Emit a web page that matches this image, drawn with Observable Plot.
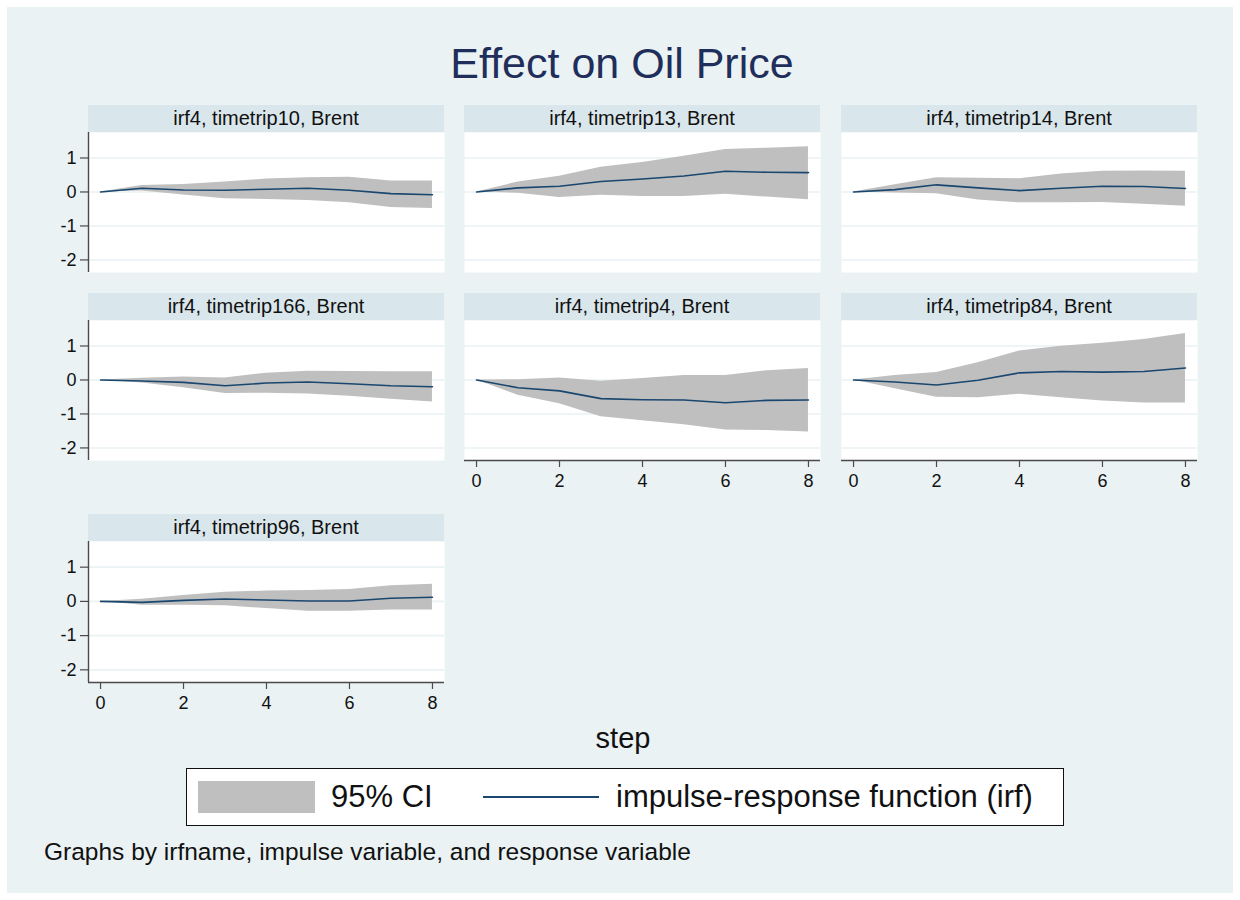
<!DOCTYPE html>
<html>
<head>
<meta charset="utf-8">
<script src="https://cdn.jsdelivr.net/npm/d3@7"></script>
<script src="https://cdn.jsdelivr.net/npm/@observablehq/plot@0.6"></script>
<style>
  html, body { margin: 0; padding: 0; background: #ffffff; }
  body { width: 1240px; height: 900px; position: relative; overflow: hidden;
         font-family: "Liberation Sans", Arial, Helvetica, sans-serif; }
  #graph { position: absolute; left: 7px; top: 7px; width: 1226px; height: 886px; background: #eaf2f3; }
  .abs { position: absolute; white-space: nowrap; line-height: 1; }
  .strip { position: absolute; background: #d9e6eb; display: flex; align-items: center;
           justify-content: center; font-size: 20px; color: #111; }
  .panel { position: absolute; }
  .panel svg text { font-size: 18px !important; }
</style>
</head>
<body>
<div id="graph"></div>
<script>
// ---------- data ----------
const steps = [0, 1, 2, 3, 4, 5, 6, 7, 8];
const yTicks = [-2, -1, 0, 1];
const xTicks = [0, 2, 4, 6, 8];
const xDomain = [-0.29, 8.29];
const yDomain = [-2.37, 1.75];

const titleText = "Effect on Oil Price";
const panelTitles = [
  "irf4, timetrip10, Brent",
  "irf4, timetrip13, Brent",
  "irf4, timetrip14, Brent",
  "irf4, timetrip166, Brent",
  "irf4, timetrip4, Brent",
  "irf4, timetrip84, Brent",
  "irf4, timetrip96, Brent"
];

const irf10 = [0, 0.11, 0.06, 0.05, 0.08, 0.11, 0.05, -0.05, -0.08];
const hi10  = [0, 0.19, 0.22, 0.29, 0.38, 0.42, 0.43, 0.32, 0.32];
const lo10  = [0, 0.03, -0.09, -0.20, -0.22, -0.25, -0.32, -0.46, -0.49];

const irf13 = [0, 0.12, 0.17, 0.31, 0.38, 0.47, 0.61, 0.58, 0.57];
const hi13  = [0, 0.29, 0.46, 0.73, 0.87, 1.05, 1.25, 1.29, 1.33];
const lo13  = [0, -0.04, -0.16, -0.10, -0.13, -0.13, -0.07, -0.15, -0.23];

const irf14 = [0, 0.07, 0.21, 0.12, 0.04, 0.11, 0.17, 0.16, 0.10];
const hi14  = [0, 0.21, 0.42, 0.40, 0.39, 0.53, 0.61, 0.62, 0.61];
const lo14  = [0, -0.03, -0.05, -0.24, -0.32, -0.32, -0.31, -0.36, -0.42];

const irf166 = [0, -0.03, -0.07, -0.17, -0.09, -0.06, -0.11, -0.17, -0.20];
const hi166  = [0, 0.05, 0.09, 0.06, 0.20, 0.26, 0.25, 0.24, 0.24];
const lo166  = [0, -0.09, -0.23, -0.40, -0.39, -0.41, -0.48, -0.57, -0.65];

const irf4 = [0, -0.23, -0.32, -0.55, -0.58, -0.59, -0.67, -0.60, -0.59];
const hi4  = [0, 0.01, 0.06, -0.04, 0.04, 0.13, 0.13, 0.27, 0.34];
const lo4  = [0, -0.45, -0.70, -1.08, -1.20, -1.32, -1.47, -1.49, -1.53];

const irf84 = [0, -0.06, -0.15, -0.01, 0.21, 0.25, 0.23, 0.25, 0.35];
const hi84  = [0, 0.13, 0.22, 0.51, 0.85, 0.99, 1.08, 1.19, 1.37];
const lo84  = [0, -0.26, -0.51, -0.52, -0.42, -0.52, -0.62, -0.68, -0.68];

const irf96 = [0, -0.03, 0.03, 0.07, 0.04, 0.01, 0.01, 0.09, 0.12];
const hi96  = [0, 0.06, 0.17, 0.27, 0.30, 0.32, 0.35, 0.46, 0.50];
const lo96  = [0, -0.11, -0.11, -0.13, -0.21, -0.29, -0.29, -0.25, -0.25];

const legendLabels = ["95% CI", "impulse-response function (irf)"];
const xLabel = "step";
const captionText = "Graphs by irfname, impulse variable, and response variable";

// ---------- styles ----------
const bandColor = "#bfbfbf";
const lineColor = "#1a476f";
const gridColor = "#eaf2f3";
const axisColor = "#4a4a4a";
const FONT = '"Liberation Sans", Arial, Helvetica, sans-serif';
const tickFmt = d => String(d); // plain hyphen minus like the original

// ---------- layout ----------
const panelSeries = [
  [irf10, lo10, hi10], [irf13, lo13, hi13], [irf14, lo14, hi14],
  [irf166, lo166, hi166], [irf4, lo4, hi4], [irf84, lo84, hi84],
  [irf96, lo96, hi96]
];
const panelPos = [ // col, row, showX, showY
  [0, 0, false, true], [1, 0, false, false], [2, 0, false, false],
  [0, 1, false, true], [1, 1, true, false], [2, 1, true, false],
  [0, 2, true, true]
];
const colLeft = [88, 464, 841];
const stripTop = [105, 293, 514];
const stripH = 27;
const plotW = 356;
const plotH = [140, 140, 141];

const g = document.getElementById("graph");
const OX = 7, OY = 7;

function addText(txt, left, top, size, color, extra) {
  const d = document.createElement("div");
  d.className = "abs";
  d.textContent = txt;
  d.style.left = (left - OX) + "px";
  d.style.top = (top - OY) + "px";
  d.style.fontSize = size + "px";
  d.style.color = color;
  if (extra) Object.assign(d.style, extra);
  g.appendChild(d);
  return d;
}

// title
addText(titleText, 0, 42, 43, "#1f2e5a", {left: "0px", width: "1240px", textAlign: "center", marginLeft: "-5px"});

panelPos.forEach(([c, r, showX, showY], i) => {
  const [irf, lo, hi] = panelSeries[i];
  const data = steps.map((s, k) => ({step: s, irf: irf[k], lo: lo[k], hi: hi[k]}));
  // strip
  const st = document.createElement("div");
  st.className = "strip";
  st.style.left = (colLeft[c] - OX) + "px";
  st.style.top = (stripTop[r] - OY) + "px";
  st.style.width = plotW + "px";
  st.style.height = stripH + "px";
  st.textContent = panelTitles[i];
  g.appendChild(st);

  const mL = showY ? 50 : 0;
  const mB = showX ? 40 : 0;
  const marks = [
    Plot.frame({fill: "white", stroke: null}),
    Plot.ruleY(yTicks, {stroke: gridColor, strokeWidth: 1.6}),
    Plot.areaY(data, {x: "step", y1: "lo", y2: "hi", fill: bandColor, curve: "linear"}),
    Plot.line(data, {x: "step", y: "irf", stroke: lineColor, strokeWidth: 1.6})
  ];
  if (showY) {
    marks.push(Plot.axisY(yTicks, {tickSize: 8, tickPadding: 4, stroke: axisColor, strokeWidth: 1.2, fill: "#111", label: null, fontSize: 18, tickFormat: tickFmt}));
    marks.push(Plot.ruleX([xDomain[0]], {stroke: axisColor, strokeWidth: 1.4}));
  } else {
    marks.push(Plot.axisY([], {label: null}));
  }
  if (showX) {
    marks.push(Plot.axisX(xTicks, {tickSize: 7, tickPadding: 7, stroke: axisColor, strokeWidth: 1.2, fill: "#111", label: null, fontSize: 18, tickFormat: tickFmt}));
    marks.push(Plot.ruleY([yDomain[0]], {stroke: axisColor, strokeWidth: 1.4}));
  } else {
    marks.push(Plot.axisX([], {label: null}));
  }
  const chart = Plot.plot({
    width: plotW + mL,
    height: plotH[r] + mB,
    marginLeft: mL, marginRight: 0, marginTop: 0, marginBottom: mB,
    x: {domain: xDomain, label: null},
    y: {domain: yDomain, label: null},
    style: {background: "transparent", fontFamily: FONT, fontSize: "18px", color: "#111", overflow: "visible"},
    marks
  });
  const wrap = document.createElement("div");
  wrap.className = "panel";
  wrap.style.left = (colLeft[c] - mL - OX) + "px";
  wrap.style.top = (stripTop[r] + stripH - OY) + "px";
  wrap.appendChild(chart);
  g.appendChild(wrap);
});

// x label
addText(xLabel, 0, 724, 29, "#111", {left: "0px", width: "1240px", textAlign: "center", marginLeft: "-4px"});

// legend
const lg = document.createElement("div");
lg.style.position = "absolute";
lg.style.left = (186 - OX) + "px";
lg.style.top = (768 - OY) + "px";
lg.style.width = "876px";
lg.style.height = "56px";
lg.style.background = "white";
lg.style.border = "1px solid #111";
g.appendChild(lg);
const sw = document.createElement("div");
sw.style.position = "absolute";
sw.style.left = (198 - OX) + "px";
sw.style.top = (781 - OY) + "px";
sw.style.width = "117px";
sw.style.height = "32px";
sw.style.background = bandColor;
g.appendChild(sw);
addText(legendLabels[0], 331, 781, 31, "#111");
const ln = document.createElement("div");
ln.style.position = "absolute";
ln.style.left = (483 - OX) + "px";
ln.style.top = (796 - OY) + "px";
ln.style.width = "116px";
ln.style.height = "2px";
ln.style.background = lineColor;
g.appendChild(ln);
addText(legendLabels[1], 616, 781, 31, "#111");

// caption
addText(captionText, 44, 840, 24.5, "#111");
</script>
</body>
</html>
